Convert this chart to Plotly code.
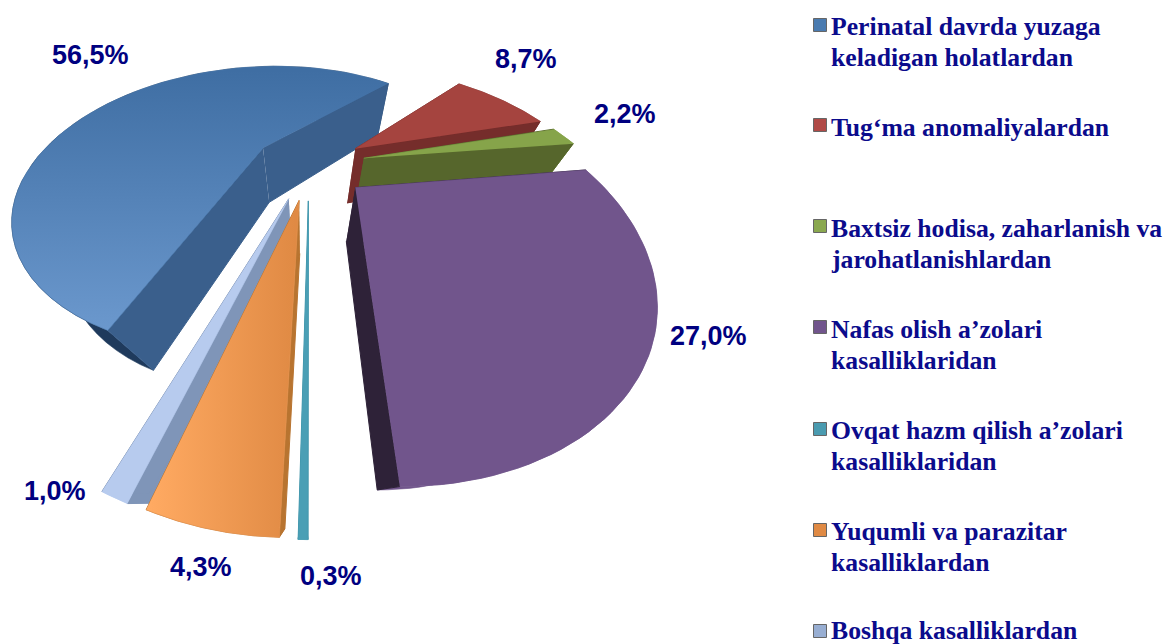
import numpy as np
import plotly.graph_objects as go

categories = ["Perinatal davrda yuzaga<br>keladigan holatlardan", "Tug‘ma anomaliyalardan",
              "Baxtsiz hodisa, zaharlanish va<br>jarohatlanishlardan", "Nafas olish a’zolari<br>kasalliklaridan",
              "Ovqat hazm qilish a’zolari<br>kasalliklaridan", "Yuqumli va parazitar<br>kasalliklardan",
              "Boshqa kasalliklardan"]
values = [56.5, 8.7, 2.2, 27.0, 0.3, 4.3, 1.0]
top_colors = ["#4a7bb0", "#a5443f", "#86a44a", "#71558c", "#4a9fb5", "#ea9650", "#b7cbee"]
wall_colors = ["#3a5f8c", "#752d2b", "#56662c", "#2e2238", "#3f93a8", "#b87430", "#7f95b8"]
rim_colors = ["#1f3a5c", "#752d2b", "#86a44a", "#71558c", "#3f93a8", "#b87430", "#b7cbee"]
swatch_colors = ["#4a7bb0", "#b04a47", "#8aa84f", "#71558c", "#4a9bb0", "#e08a44", "#98aed2"]
label_pos = [(90, 55), (526, 59), (625, 114), (708, 336), (331, 576), (201, 567), (55, 491)]
legend_y = [25, 125, 226, 327, 429, 530, 631]
legend_text_y = [26, 127, 228, 329, 430, 531, 630]

# Tilted-pie projection (screen centre, scales, perspective, rotation, explosion, shear)
CX, CY, SX, SY, PERSP, ROT, EXPLODE, SHEAR = 308.9, 164.3, -230.4, -131.0, -0.4521, 0.3548, 0.2482, 0.8301
VANISH = (303.0, 501.0)
draw_order = [0, 1, 2, 3, 6, 5, 4]

edges = np.cumsum([0] + values) / 100 * 2 * np.pi


def project(X, Y):
    w = 1 + PERSP * Y
    return CX + (SX * X + SHEAR * Y) / w, CY - SY * Y / w


def slice_point(i, t, r=1.0):
    m = ROT + (edges[i] + edges[i + 1]) / 2
    return project(EXPLODE * np.sin(m) + r * np.sin(t), EXPLODE * np.cos(m) + r * np.cos(t))


def lower(x, y):
    f = np.minimum(0.234, 0.125 + 0.00045 * (np.asarray(y, dtype=float) - 84))
    return x + f * (VANISH[0] - x), y + f * (VANISH[1] - y)


def face(x, y, color, grad=None, width=0.6):
    kw = dict(fillgradient=grad) if grad else dict(fillcolor=color)
    return go.Scatter(x=list(x), y=list(y), mode="lines", fill="toself", line=dict(color=color, width=width),
                      hoverinfo="skip", showlegend=False, **kw)


fig = go.Figure()
for i in draw_order:
    tt = np.linspace(ROT + edges[i], ROT + edges[i + 1], 60)
    rx, ry = slice_point(i, tt)
    ax, ay = slice_point(i, 0.0, 0.0)
    bx, by = lower(rx, ry)
    abx, aby = lower(ax, ay)
    fig.add_trace(face(np.r_[rx, bx[::-1]], np.r_[ry, by[::-1]], rim_colors[i]))
    fig.add_trace(face([ax, rx[0], bx[0], abx], [ay, ry[0], by[0], aby], wall_colors[i], width=1))
    fig.add_trace(face([ax, rx[-1], bx[-1], abx], [ay, ry[-1], by[-1], aby], wall_colors[i], width=1))
    grad = None
    if i == 0:
        grad = dict(type="vertical", colorscale=[[0, "#3f6ea3"], [1, "#6b98cd"]], start=70, stop=330)
    if i == 5:
        grad = dict(type="horizontal", colorscale=[[0, "#ffaa62"], [1, "#e08a44"]], start=150, stop=295)
    fig.add_trace(face(np.r_[ax, rx], np.r_[ay, ry], top_colors[i], grad))

fig.add_trace(go.Scatter(x=[820] * 7, y=legend_y, mode="markers", showlegend=False, hoverinfo="skip",
                         marker=dict(symbol="square", size=13, color=swatch_colors, line=dict(color="#666666", width=1))))

for (x, y), v in zip(label_pos, values):
    fig.add_annotation(x=x, y=y, text="<b>%s%%</b>" % f"{v:.1f}".replace(".", ","), showarrow=False,
                       xanchor="center", yanchor="middle",
                       font=dict(family="Liberation Sans", size=27, color="#000080"))
for c, y in zip(categories, legend_text_y):
    for k, line in enumerate(c.split("<br>")):
        fig.add_annotation(x=829, y=y + 31 * k, text=f"<b>{line}</b>", showarrow=False, xanchor="left", yanchor="middle",
                           font=dict(family="Liberation Serif", size=25.7, color="#0b0b8c"))

fig.update_layout(width=1167, height=644, margin=dict(l=0, r=0, t=0, b=0), paper_bgcolor="white", plot_bgcolor="white",
                  xaxis=dict(range=[0, 1167], visible=False), yaxis=dict(range=[644, 0], visible=False))
fig.write_html("out.html", config=dict(displayModeBar=False), post_script="document.body.style.margin='0';")
